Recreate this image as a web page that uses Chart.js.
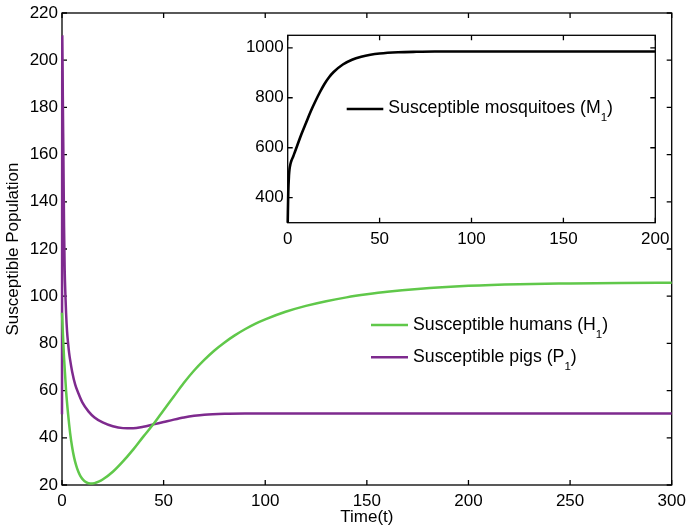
<!DOCTYPE html>
<html>
<head>
<meta charset="utf-8">
<script src="https://cdn.jsdelivr.net/npm/chart.js@4.4.0/dist/chart.umd.min.js"></script>
<style>
  html, body { margin: 0; padding: 0; background: #fff; }
  #wrap { position: relative; width: 686px; height: 531px; }
  #wrap canvas { position: absolute; left: 0; top: 0; }
</style>
</head>
<body>
<div id="wrap">
  <canvas id="mainChart" width="686" height="531"></canvas>
  <canvas id="insetChart" width="686" height="531"></canvas>
</div>
<script>
// susceptible humans H1
const humansT = [0, 0.5, 1, 1.5, 2, 3, 4, 5, 6, 7, 8, 9, 10, 12, 14, 16, 18, 20, 25, 30, 35, 40, 45, 50, 55, 60, 65, 70, 75, 80, 85, 90, 95, 100, 110, 120, 130, 140, 150, 160, 175, 200, 225, 250, 275, 300];
const humansS = [93, 83, 74, 67, 60, 50, 42, 36, 31.5, 28.2, 25.7, 23.9, 22.6, 21.1, 20.6, 20.8, 21.4, 22.3, 25.6, 30, 35, 40.5, 45.8, 51.7, 57.5, 63.3, 68.5, 73, 77, 80.4, 83.4, 86, 88.3, 90.2, 93.4, 95.9, 97.9, 99.5, 100.8, 101.9, 103.1, 104.4, 105.1, 105.4, 105.6, 105.7];

// susceptible pigs P1
const pigsT = [0, 0.15, 0.4, 0.7, 1, 1.3, 1.7, 2, 2.5, 3, 3.5, 4, 5, 6.5, 8, 10, 13, 16, 20, 25, 30, 35, 40, 45, 50, 55, 60, 65, 70, 80, 90, 100, 150, 200, 300];
const pigsS = [50, 210, 185, 158, 130, 112, 100, 93, 85, 80, 76, 73, 68, 62.5, 59, 55, 51.2, 48.6, 46.5, 44.9, 44.1, 44, 44.7, 45.7, 46.7, 47.7, 48.6, 49.3, 49.8, 50.2, 50.3, 50.3, 50.3, 50.3, 50.3];

// susceptible mosquitoes M1 (inset)
const mosqT = [0, 0.3, 0.7, 1, 1.5, 2, 3, 4, 5, 7.5, 10, 12.5, 15, 17.5, 20, 22.5, 25, 30, 35, 40, 45, 50, 60, 70, 80, 100, 150, 200];
const mosqS = [300, 420, 490, 515, 535, 548, 565, 585, 605, 655, 700, 745, 785, 822, 855, 882, 903, 933, 952, 964, 972, 977, 982, 984, 985, 985, 985, 985];

const mainXTicks = [0, 50, 100, 150, 200, 250, 300];
const mainYTicks = [20, 40, 60, 80, 100, 120, 140, 160, 180, 200, 220];
const insetXTicks = [0, 50, 100, 150, 200];
const insetYTicks = [400, 600, 800, 1000];

const seriesNames = ['Susceptible humans', 'Susceptible pigs', 'Susceptible mosquitoes'];
const seriesSymbols = ['H', 'P', 'M'];

const FONT = '"Liberation Sans", Arial, Helvetica, sans-serif';
const GREEN = 'rgb(96, 200, 74)';
const PURPLE = 'rgb(126, 42, 142)';

function toPoints(ts, vs) {
  return ts.map((t, i) => ({ x: t, y: vs[i] }));
}

// box around the plot area with inward tick marks on all four sides
const framePlugin = {
  id: 'frame',
  beforeDatasetsDraw(chart, args, opts) {
    const { ctx, chartArea: a, scales } = chart;
    const len = opts.tickLength;
    ctx.save();
    ctx.strokeStyle = '#000';
    ctx.lineWidth = opts.lineWidth;
    ctx.strokeRect(a.left, a.top, a.right - a.left, a.bottom - a.top);
    ctx.beginPath();
    scales.x.ticks.forEach(t => {
      const px = scales.x.getPixelForValue(t.value);
      ctx.moveTo(px, a.bottom); ctx.lineTo(px, a.bottom - len);
      ctx.moveTo(px, a.top); ctx.lineTo(px, a.top + len);
    });
    scales.y.ticks.forEach(t => {
      const py = scales.y.getPixelForValue(t.value);
      ctx.moveTo(a.left, py); ctx.lineTo(a.left + len, py);
      ctx.moveTo(a.right, py); ctx.lineTo(a.right - len, py);
    });
    ctx.stroke();
    ctx.restore();
  }
};

// legend rows: short line sample, then "name (X" with subscript 1 and closing paren
const subLegend = {
  id: 'subLegend',
  afterDraw(chart, args, opts) {
    const ctx = chart.ctx;
    ctx.save();
    chart.data.datasets.forEach((ds, i) => {
      const y = opts.y + i * opts.rowGap;
      ctx.strokeStyle = ds.borderColor;
      ctx.lineWidth = opts.lineWidth;
      ctx.beginPath();
      ctx.moveTo(opts.x, y);
      ctx.lineTo(opts.x + opts.lineLen, y);
      ctx.stroke();

      let x = opts.x + opts.lineLen + opts.gap;
      const base = y + opts.baseOffset;
      ctx.fillStyle = '#000';
      ctx.textBaseline = 'alphabetic';
      ctx.textAlign = 'left';
      ctx.font = opts.fontSize + 'px ' + FONT;
      const head = ds.label + ' (' + ds.symbol;
      ctx.fillText(head, x, base);
      x += ctx.measureText(head).width;
      ctx.font = '11.5px ' + FONT;
      ctx.fillText('1', x, base + opts.subDrop);
      x += ctx.measureText('1').width;
      ctx.font = opts.fontSize + 'px ' + FONT;
      ctx.fillText(')', x, base);
    });
    ctx.restore();
  }
};

function axis(min, max, tickVals, opts) {
  const horizontal = opts.horizontal;
  return {
    type: 'linear',
    min: min,
    max: max,
    afterBuildTicks: s => { s.ticks = tickVals.map(v => ({ value: v })); },
    afterFit: s => {
      if (horizontal) {
        s.height = opts.size;
        s.paddingLeft = 0; s.paddingRight = 0;
      } else {
        s.width = opts.size;
        s.paddingTop = 0; s.paddingBottom = 0;
      }
    },
    grid: { display: false, drawTicks: false },
    border: { display: false },
    ticks: {
      padding: horizontal ? 6 : 4,
      color: '#000',
      font: { size: 17, family: FONT },
      maxRotation: 0,
      callback: v => String(v)
    },
    title: opts.title
      ? { display: true, text: opts.title, color: '#000', font: { size: 17, family: FONT }, padding: 3 }
      : { display: false }
  };
}

const common = {
  responsive: false,
  animation: false,
  events: [],
  elements: { point: { radius: 0 } },
  plugins: { legend: { display: false }, tooltip: { enabled: false } }
};

new Chart(document.getElementById('mainChart'), {
  type: 'line',
  data: {
    datasets: [
      { label: seriesNames[0], symbol: seriesSymbols[0], data: toPoints(humansT, humansS), borderColor: GREEN, borderWidth: 2.5, cubicInterpolationMode: 'monotone', clip: false },
      { label: seriesNames[1], symbol: seriesSymbols[1], data: toPoints(pigsT, pigsS), borderColor: PURPLE, borderWidth: 2.5, cubicInterpolationMode: 'monotone', clip: false }
    ]
  },
  options: {
    ...common,
    layout: { padding: { top: 13, right: 14.3, left: 0, bottom: 0 } },
    scales: {
      x: axis(0, 300, mainXTicks, { horizontal: true, size: 46, title: 'Time(t)' }),
      y: axis(20, 220, mainYTicks, { horizontal: false, size: 62, title: 'Susceptible Population' })
    },
    plugins: {
      ...common.plugins,
      frame: { lineWidth: 1.3, tickLength: 5 },
      subLegend: { x: 371, y: 325, rowGap: 32.3, lineLen: 37, lineWidth: 2.5, gap: 5, baseOffset: 5, subDrop: 7.5, fontSize: 17.7 }
    }
  },
  plugins: [framePlugin, subLegend]
});

new Chart(document.getElementById('insetChart'), {
  type: 'line',
  data: {
    datasets: [
      { label: seriesNames[2], symbol: seriesSymbols[2], data: toPoints(mosqT, mosqS), borderColor: '#000', borderWidth: 2.6, cubicInterpolationMode: 'monotone', clip: false }
    ]
  },
  options: {
    ...common,
    layout: { padding: { top: 35.3, right: 30.7, left: 0, bottom: 0 } },
    scales: {
      x: axis(0, 200, insetXTicks, { horizontal: true, size: 308.3 }),
      y: axis(300, 1050, insetYTicks, { horizontal: false, size: 287.7 })
    },
    plugins: {
      ...common.plugins,
      frame: { lineWidth: 1.3, tickLength: 5 },
      subLegend: { x: 346.7, y: 109, rowGap: 0, lineLen: 36.6, lineWidth: 2.6, gap: 5, baseOffset: 4, subDrop: 7.5, fontSize: 17.7 }
    }
  },
  plugins: [framePlugin, subLegend]
});
</script>
</body>
</html>
